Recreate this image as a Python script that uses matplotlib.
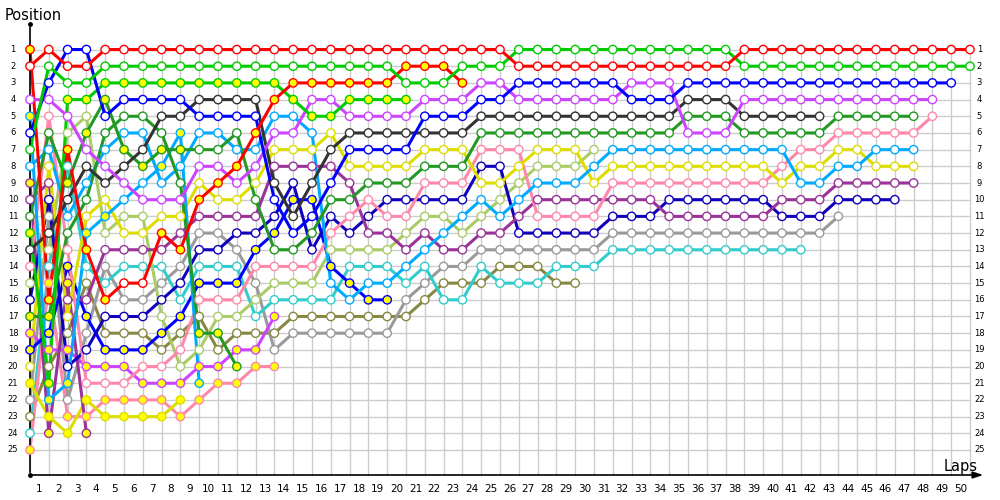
import matplotlib
matplotlib.use("Agg")
import matplotlib.pyplot as plt

# ---------------- data (position per lap, lap 0 = grid) ----------------
red1_pos = [2, 1, 2, 2] + [1] * 22 + [2] * 12 + [1] * 13
red1_yel = []
green_pos = [7, 2, 3, 3] + [2] * 16 + [3] * 3 + [2] * 3 + [1] * 12 + [2] * 13
green_yel = []
red2_pos = [1, 16, 7, 13, 16, 15, 15, 12, 13, 10, 9, 8, 6, 4, 3, 3, 3, 3, 3, 3, 2, 2, 2, 3]
red2_yel = [0, 1, 2, 3, 4, 7, 8, 9, 10, 11, 12, 13, 14, 15, 16, 17, 18, 19, 20, 21, 22, 23]
green2_pos = [12, 21, 4, 4, 3, 3, 3, 3, 3, 3, 3, 3, 3, 3, 4, 5, 5, 4, 4, 4, 4]
green2_yel = list(range(0, 21))
blue_pos = [6, 3, 1, 1, 5, 4, 4, 4, 4, 5, 5, 5, 5, 10, 12, 11, 9, 7, 7, 7, 7,
            5, 5, 5, 4, 4] + [3] * 6 + [4] * 3 + [3] * 15
blue_yel = []
purple_pos = [4, 4, 5, 7, 8, 9, 10, 10, 10, 8, 8, 9, 8, 6, 6, 4, 4, 5, 5, 5, 5,
              4, 4, 4, 3, 3] + [4] * 6 + [3] * 3 + [6] * 3 + [4] * 11
purple_yel = []
dgray_pos = [13, 12, 10, 8, 9, 8, 7, 5, 5, 4, 4, 4, 4, 9, 11, 9, 7, 6, 6, 6] + \
            [6] * 4 + [5] * 11 + [4] * 3 + [5] * 5
dgray_yel = []
dgreen_pos = [11, 6, 9, 6, 4, 7, 8, 7, 7, 7, 7, 6, 10, 13, 13, 12, 10, 10, 9, 9, 9,
              8, 8, 8] + [6] * 11 + [5] * 3 + [6] * 5 + [5] * 5
dgreen_yel = [2, 3, 4, 5, 6, 7, 8]
dgreen2_pos = [17, 17, 12, 10, 6, 5, 5, 6, 9, 18, 18, 20]
dgreen2_yel = [0, 1, 9, 10, 11]
pink_pos = [14, 5, 13, 21, 21, 21, 20, 20, 19, 16, 16, 16, 14, 14, 14, 14, 12, 11, 10, 11,
            11, 9, 9, 9, 7, 7, 7, 11, 11, 11, 11] + [9] * 9 + [8, 7, 7] + [6] * 5 + [5]
pink_yel = []
lblue_pos = [8, 7, 11, 9, 7, 6, 6, 9, 8, 6, 6, 7, 7, 5, 5, 6, 15, 16, 15, 15, 14,
             13, 12, 11, 10, 11, 10, 9, 9, 9, 8] + [7] * 10 + [9, 9, 8, 8, 7, 7, 7]
lblue_yel = []
lblue2_pos = [5, 22, 21, 12, 11, 10, 9, 8, 6, 21]
lblue2_yel = [0, 1, 2, 3, 4, 7, 8, 9]
yellow_pos = [20, 8, 17, 11, 10, 12, 12, 11, 11, 9, 10, 10, 9, 7, 7, 7, 6, 8, 8, 8, 8,
              7, 7, 7, 9, 9, 8, 7, 7, 7, 9] + [8] * 9 + [9, 8, 8, 7, 7, 8, 8, 8]
yellow_yel = []
yellow2_pos = [21, 23, 24, 22, 23, 23, 23, 23, 22]
yellow2_yel = list(range(0, 9))
dpurple_pos = [10, 9, 16, 16, 13, 13, 13, 13, 12, 11, 11, 11, 11, 8, 8, 8, 8, 9, 12, 12,
               13, 12, 13, 13, 12, 12, 11] + [10] * 7 + [11] * 6 + [10] * 3 + [9] * 5
dpurple_yel = []
dpurple2_pos = [9, 24, 15, 24]
dpurple2_yel = [0, 1, 2, 3]
dblue_pos = [16, 10, 20, 19, 17, 17, 17, 16, 15, 13, 13, 12, 12, 11, 9, 13, 11, 12, 11, 10,
             10, 10, 10, 10, 8, 8] + [12] * 5 + [11] * 3 + [10] * 6 + [11] * 3 + [10] * 4
dblue_yel = []
lgreen_pos = [15, 13, 6, 5, 12, 11, 11, 17, 20, 19, 17, 17, 16, 15, 15, 15, 13, 13, 13, 13,
              12, 11, 11, 12, 11, 10, 9, 8, 8, 8, 7]
lgreen_yel = []
gray_pos = [22, 11, 22, 18, 14, 16, 16, 15, 14, 12, 12, 13, 15, 19] + [18] * 6 + \
           [16, 15, 14, 14] + [13] * 7 + [12] * 12 + [11]
gray_yel = []
olive_pos = [23, 20, 18, 15, 18, 18, 18, 19, 18, 17, 19, 18, 18, 18] + [17] * 7 + \
            [16, 15, 15, 15, 14, 14, 14, 15, 15]
olive_yel = []
teal_pos = [24, 14, 8, 14, 15, 14, 14, 14, 16, 14, 14, 14, 17, 16, 16, 16, 16, 14, 14, 14,
            15, 14, 16, 16, 14, 15, 15, 15, 14, 14, 14] + [13] * 11
teal_yel = []
purple2_pos = [18, 19, 19, 20, 20, 20, 21, 21, 21, 20, 20, 19, 19, 17]
purple2_yel = list(range(0, 14))
blue2_pos = [19, 18, 14, 17, 19, 19, 19, 18, 17, 15, 15, 15, 13, 12, 10, 10, 14, 15, 16, 16]
blue2_yel = list(range(0, 20))
pink2_pos = [25, 15, 23, 23, 22, 22, 22, 22, 23, 22, 21, 21, 20, 20]
pink2_yel = list(range(0, 14))

series = [
    (olive_pos, olive_yel, "#888844"),
    (gray_pos, gray_yel, "#9a9a9a"),
    (teal_pos, teal_yel, "#33cccc"),
    (lgreen_pos, lgreen_yel, "#aacc66"),
    (pink2_pos, pink2_yel, "#ff88aa"),
    (yellow2_pos, yellow2_yel, "#dddd00"),
    (purple2_pos, purple2_yel, "#cc44ff"),
    (dpurple2_pos, dpurple2_yel, "#993399"),
    (blue2_pos, blue2_yel, "#0000ff"),
    (dblue_pos, dblue_yel, "#1100bb"),
    (dpurple_pos, dpurple_yel, "#993399"),
    (pink_pos, pink_yel, "#ff88aa"),
    (yellow_pos, yellow_yel, "#dddd00"),
    (lblue2_pos, lblue2_yel, "#00aaff"),
    (lblue_pos, lblue_yel, "#00aaff"),
    (dgreen2_pos, dgreen2_yel, "#229922"),
    (dgreen_pos, dgreen_yel, "#229922"),
    (dgray_pos, dgray_yel, "#333333"),
    (purple_pos, purple_yel, "#cc44ff"),
    (green2_pos, green2_yel, "#00cc00"),
    (blue_pos, blue_yel, "#0000ff"),
    (red2_pos, red2_yel, "#ff0000"),
    (green_pos, green_yel, "#00cc00"),
    (red1_pos, red1_yel, "#ff0000"),
]

n_laps = 50
n_pos = 25

# ---------------- figure ----------------
fig = plt.figure(figsize=(10, 5), dpi=100)
ax = fig.add_axes([0.03, 0.05, 0.94, 0.901])
ax.set_xlim(0, n_laps)
ax.set_ylim(26.5, -0.5)

grid_c = "#cccccc"
for lap in range(0, n_laps + 1):
    ax.plot([lap, lap], [0.7, 26.5], color=grid_c, lw=1.0, zorder=1, clip_on=False)
for p in range(1, n_pos + 1):
    ax.plot([0, n_laps], [p, p], color=grid_c, lw=1.0, zorder=1, clip_on=False)

for pos, yel, col in series:
    laps = list(range(len(pos)))
    ax.plot(laps, pos, color=col, lw=2.2, zorder=3, clip_on=False,
            solid_joinstyle="round")
    faces = ["#ffff00" if i in yel else "white" for i in laps]
    ax.scatter(laps, pos, s=36, facecolors=faces, edgecolors=col,
               linewidths=1.0, zorder=4, clip_on=False)

for s in ["top", "right", "left", "bottom"]:
    ax.spines[s].set_visible(False)
ax.set_xticks([])
ax.set_yticks([])

# axes lines with arrows
ax.annotate("", xy=(0, -0.5), xytext=(0, 26.5),
            arrowprops=dict(arrowstyle="-", color="black", lw=1.2),
            annotation_clip=False)
ax.plot([0], [-0.5], marker="o", ms=2.5, color="black", clip_on=False)
ax.plot([0], [26.5], marker="o", ms=2.5, color="black", clip_on=False)
ax.annotate("", xy=(50.85, 26.5), xytext=(0, 26.5),
            arrowprops=dict(arrowstyle="-|>,head_length=0.6,head_width=0.2",
                            color="black", lw=1.2),
            annotation_clip=False)

# tick labels
for k in range(1, n_laps + 1):
    ax.text(k - 0.5, 27.35, str(k), ha="center", va="center", fontsize=7.5,
            family="DejaVu Sans", clip_on=False)
for p in range(1, n_pos + 1):
    ax.text(-0.9, p, str(p), ha="center", va="center", fontsize=6,
            family="DejaVu Sans", clip_on=False)
    ax.text(50.5, p, str(p), ha="center", va="center", fontsize=6,
            family="DejaVu Sans", clip_on=False)

fig.text(0.005, 0.968, "Position", ha="left", va="center", fontsize=10.5)
fig.text(0.944, 0.068, "Laps", ha="left", va="center", fontsize=10.5)

fig.savefig("out.png", dpi=100)
